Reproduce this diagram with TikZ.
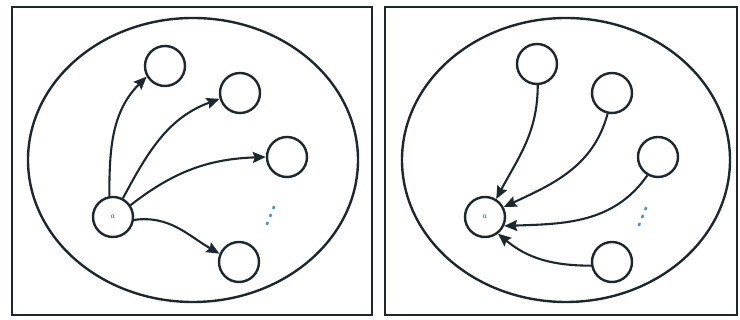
\documentclass[tikz,border=0pt]{standalone}
\usepackage{fontspec}
\newfontfamily\symfont{DejaVu Sans}
\usetikzlibrary{arrows.meta}
\definecolor{ink}{RGB}{28,40,46}
\definecolor{dotblue}{RGB}{70,140,190}
\begin{document}
\begin{tikzpicture}[x=1pt,y=1pt,
  panel/.style={draw=ink,line width=2.8pt},
  world/.style={draw=ink,line width=2.4pt},
  vert/.style={circle,draw=ink,line width=2.4pt,minimum size=40pt,inner sep=0pt},
  edge/.style={draw=ink,line width=2.1pt,-{Stealth[length=13pt,width=11pt,inset=2pt]}},
  lbl/.style={font=\footnotesize\itshape,text=dotblue!45!black},
  dotsty/.style={text=dotblue,font=\symfont\fontsize{25}{25}\selectfont,rotate=-22,inner sep=0pt}]
\useasboundingbox (0,0) rectangle (740,320);
\fill[white] (0,0) rectangle (740,320);
% panels
\draw[panel] (12,5) rectangle (372,313);
\draw[panel] (385,5) rectangle (737,313);
% left
\draw[world] (193,160) ellipse [x radius=165, y radius=142];
\node[vert,label={[lbl]center:$a$}] (a) at (113,103) {};
\node[vert] (n1) at (165,254) {};
\node[vert] (n2) at (240,227) {};
\node[vert] (n3) at (287,163) {};
\node[vert] (n4) at (239,58) {};
\node[dotsty] (d1) at (271,104) {⋮};
\draw[edge] (a.100) to[out=90,in=225] (n1.210);
\draw[edge] (a.62) to[out=62,in=200] (n2.196);
\draw[edge] (a.34) to[out=38,in=182] (n3.180);
\draw[edge] (a.352) to[out=8,in=150] (n4.157);
% right
\draw[world] (566,160) ellipse [x radius=164, y radius=142];
\node[vert,label={[lbl]center:$a$}] (b) at (485,103) {};
\node[vert] (m1) at (537,256) {};
\node[vert] (m2) at (612,227) {};
\node[vert] (m3) at (658,163) {};
\node[vert] (m4) at (612,58) {};
\node[dotsty] (d2) at (643,103) {⋮};
\draw[edge] (m1.272) to[out=270,in=62] (b.58);
\draw[edge] (m2.258) to[out=255,in=25] (b.28);
\draw[edge] (m3.240) to[out=235,in=2] (b.335);
\draw[edge] (m4.190) to[out=180,in=320] (b.308);
\end{tikzpicture}
\end{document}
